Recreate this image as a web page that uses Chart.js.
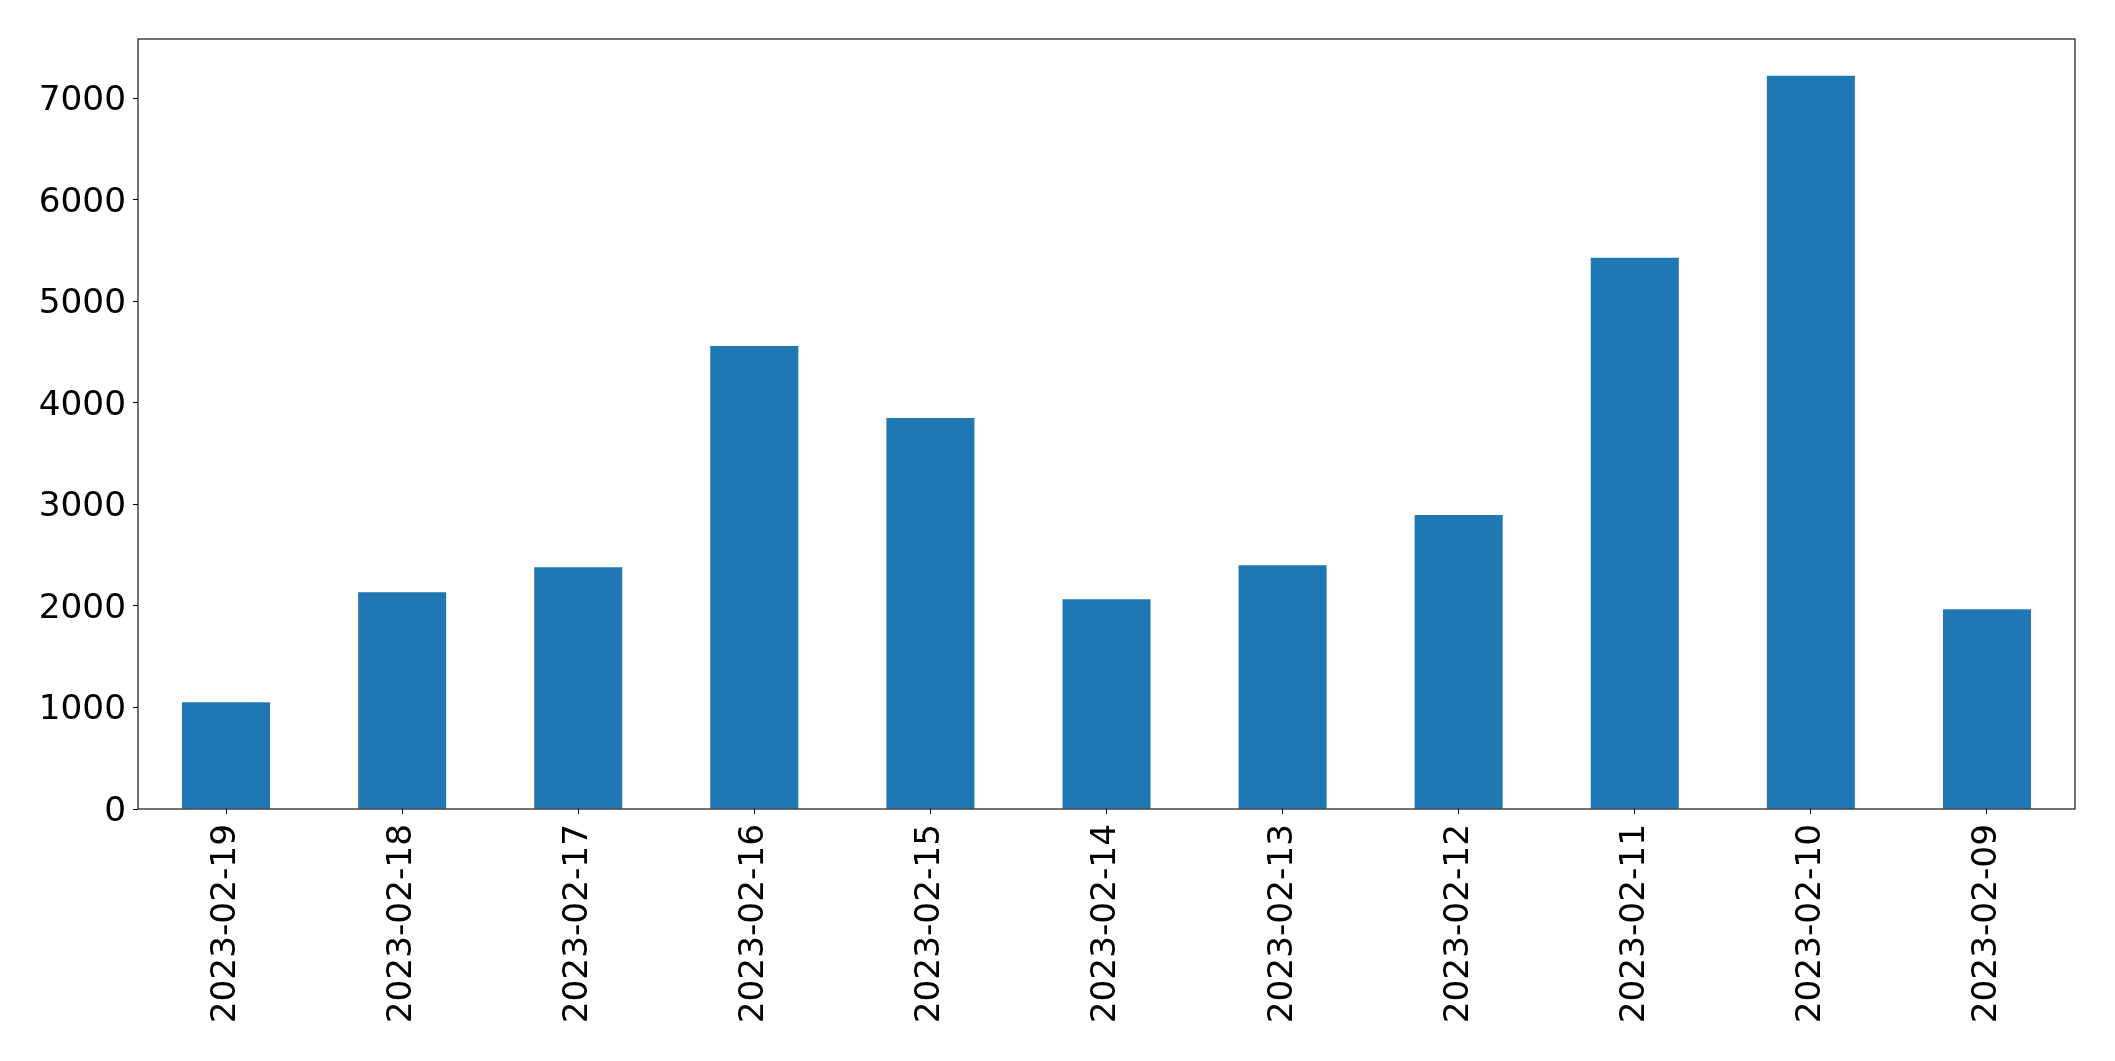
<!DOCTYPE html>
<html>
<head>
<meta charset="utf-8">
<script src="https://cdn.jsdelivr.net/npm/chart.js@4"></script>
<style>
  body { margin: 0; background: #fff; }
  canvas { display: block; }
</style>
</head>
<body>
<canvas id="bar-chart" width="2115" height="1061"></canvas>
<script>
let labels = [
  '2023-02-19',
  '2023-02-18',
  '2023-02-17',
  '2023-02-16',
  '2023-02-15',
  '2023-02-14',
  '2023-02-13',
  '2023-02-12',
  '2023-02-11',
  '2023-02-10',
  '2023-02-09',
];

let counts = [1051, 2135, 2381, 4559, 3850, 2066, 2401, 2894, 5427, 7221, 1967];

let yTicks = [0, 1000, 2000, 3000, 4000, 5000, 6000, 7000];

// plot box, matplotlib style
let plotLeft = 138, plotRight = 2075, plotTop = 39, plotBottom = 809;

let frame = {
  id: 'frame',
  afterDraw(chart) {
    let a = chart.chartArea;
    let ctx = chart.ctx;
    ctx.save();
    ctx.strokeStyle = '#000';
    ctx.lineWidth = 1.1;
    ctx.strokeRect(a.left, a.top, a.right - a.left, a.bottom - a.top);
    ctx.restore();
  }
};

Chart.defaults.font.family = '"DejaVu Sans", sans-serif';
Chart.defaults.color = '#000';

let bar_chart = new Chart(document.getElementById('bar-chart'), {
  type: 'bar',
  data: {
    labels: labels,
    datasets: [{
      data: counts,
      backgroundColor: '#1f77b4',
      categoryPercentage: 1,
      barPercentage: 0.5,
    }]
  },
  options: {
    responsive: false,
    animation: false,
    layout: {
      padding: { left: 0, right: 2115 - plotRight, top: plotTop, bottom: 0 }
    },
    plugins: {
      legend: { display: false },
      tooltip: { enabled: false },
    },
    scales: {
      x: {
        offset: true,
        grid: { display: true, drawOnChartArea: false, offset: false, tickLength: 5, tickColor: '#000', color: '#000' },
        border: { display: false },
        ticks: { font: { size: 34.3 }, minRotation: 90, maxRotation: 90, padding: 10, autoSkip: false },
        afterFit(scale) { scale.height = 1061 - plotBottom; },
      },
      y: {
        min: 0,
        max: 7582,
        grid: { display: true, drawOnChartArea: false, tickLength: 5, tickColor: '#000', color: '#000' },
        border: { display: false },
        ticks: { font: { size: 34.3 }, padding: 7, labelOffset: 3, callback: v => String(v) },
        afterBuildTicks(scale) { scale.ticks = yTicks.map(v => ({ value: v })); },
        afterFit(scale) { scale.width = plotLeft; },
      }
    }
  },
  plugins: [frame]
});
</script>
</body>
</html>
